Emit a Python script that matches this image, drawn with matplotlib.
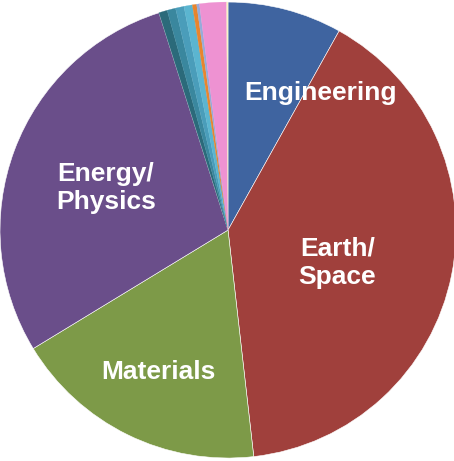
import matplotlib.pyplot as plt

# share of usage by science domain (percent), clockwise from 12 o'clock
domains = ["Engineering", "Earth/\nSpace", "Materials", "Energy/\nPhysics",
           "Other 1", "Other 2", "Other 3", "Other 4",
           "Other 5", "Other 6", "Other 7", "Other 8"]
shares = [8.1, 40.1, 18.1, 28.8, 0.6, 0.6, 0.6, 0.6, 0.3, 0.2, 1.9, 0.1]
colors = ["#3F64A0", "#A0403C", "#7D9A48", "#6A4E8A",
          "#2B6A7A", "#3A879E", "#4A9DBA", "#5BB5D0",
          "#E8852E", "#97ABDA", "#EE92D2", "#F8F4C8"]

# only the big wedges get a label, placed inside the wedge
shown = ["Engineering", "Earth/\nSpace", "Energy/\nPhysics", "Materials"]
label_xy = [(0.404, 0.60), (0.48, -0.145), (-0.535, 0.184), (-0.307, -0.623)]

fig = plt.figure(figsize=(4.54, 4.61), dpi=100)
ax = fig.add_axes([0, 0, 1, 1])

wedges, _ = ax.pie(shares, colors=colors, startangle=90, counterclock=False,
                   radius=1.0, wedgeprops=dict(edgecolor="white", linewidth=0.4))
# the thin wedges get no white border
for w in wedges[4:]:
    w.set_edgecolor(w.get_facecolor())
    w.set_linewidth(0.2)

for name, (x, y) in zip(shown, label_xy):
    ax.text(x, y, name, color="white", fontsize=19, fontweight="bold",
            family="Liberation Sans", ha="center", va="center",
            linespacing=1.25)

ax.set_xlim(-1.0, 0.991)
ax.set_ylim(-1.013, 1.009)
ax.set_aspect("auto")
ax.axis("off")

fig.savefig("out.png", dpi=100, facecolor="white")
